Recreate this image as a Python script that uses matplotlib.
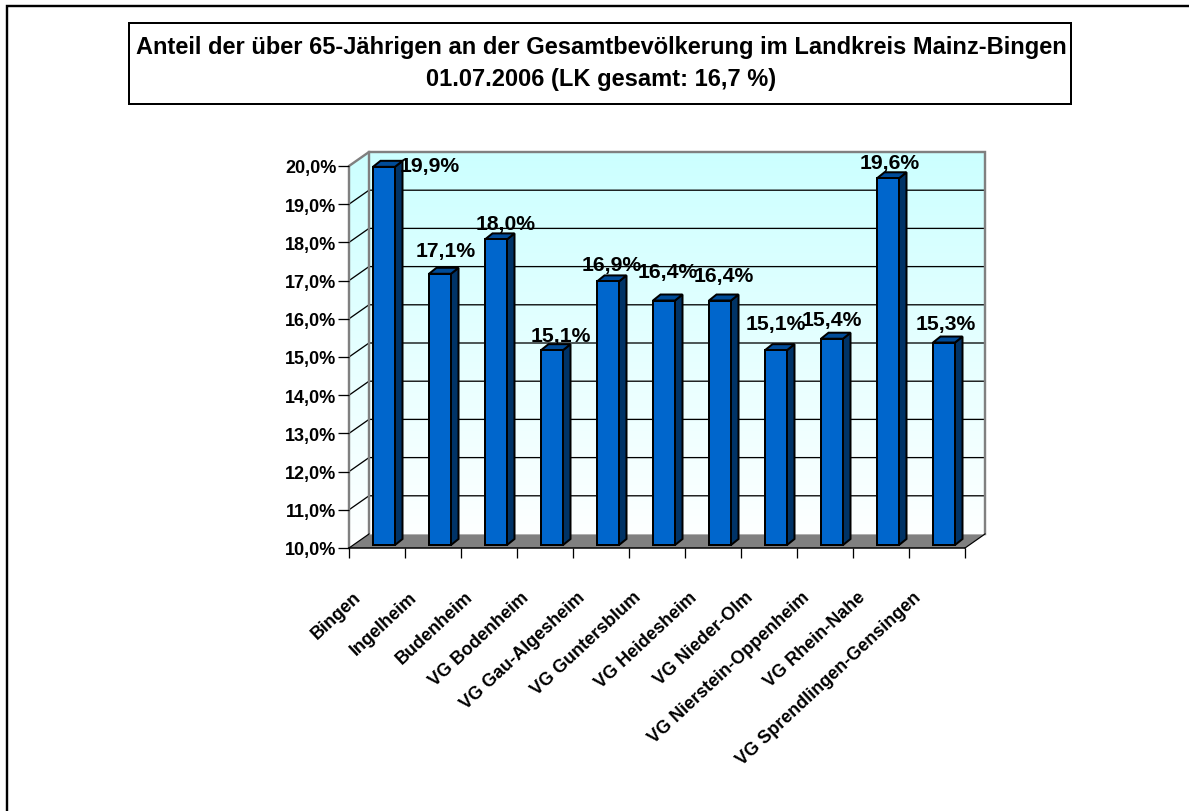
import numpy as np
import matplotlib
matplotlib.use("Agg")
import matplotlib.pyplot as plt
from matplotlib.colors import LinearSegmentedColormap
from matplotlib.patches import Polygon, Rectangle
from matplotlib.lines import Line2D
from matplotlib.transforms import ScaledTranslation

categories = ["Bingen", "Ingelheim", "Budenheim", "VG Bodenheim", "VG Gau-Algesheim",
              "VG Guntersblum", "VG Heidesheim", "VG Nieder-Olm",
              "VG Nierstein-Oppenheim", "VG Rhein-Nahe", "VG Sprendlingen-Gensingen"]
values = [19.9, 17.1, 18.0, 15.1, 16.9, 16.4, 16.4, 15.1, 15.4, 19.6, 15.3]
value_labels = ["19,9%", "17,1%", "18,0%", "15,1%", "16,9%", "16,4%", "16,4%",
                "15,1%", "15,4%", "19,6%", "15,3%"]
y_ticks = [10, 11, 12, 13, 14, 15, 16, 17, 18, 19, 20]
y_tick_labels = ["10,0%", "11,0%", "12,0%", "13,0%", "14,0%", "15,0%", "16,0%",
                 "17,0%", "18,0%", "19,0%", "20,0%"]
title_text = ("Anteil der über 65-Jährigen an der Gesamtbevölkerung im Landkreis Mainz-Bingen\n"
              "01.07.2006 (LK gesamt: 16,7 %)")

# label placement offsets in pixels from bar top centre (style)
label_dx = [46, 6, 10, 9, 4, 4, 4, 0, 0, 2, 2]
label_dy = [1, 23, 16, 15, 17, 29, 25, 27, 19, 16, 19]

W, H = 1189, 812
plt.rcParams['font.family'] = ['Liberation Sans', 'DejaVu Sans']
fig = plt.figure(figsize=(W / 100, H / 100), dpi=100, facecolor="white")
L, R, T, B = 349, 965, 167, 549
ax = fig.add_axes([L / W, 1 - B / H, (R - L) / W, (B - T) / H])
ax.set_xlim(0, len(categories))
ax.set_ylim(10, 20)
px = len(categories) / (R - L)
py = 10 / (B - T)
DX, DY = 20 * px, 14 * py   # wall depth
lw = 0.72
GRAY = "#808080"


def pg(points, **kw):
    p = Polygon(points, closed=True, clip_on=False, **kw)
    ax.add_patch(p)
    return p


# walls with gradient
n = len(categories)
cmap = LinearSegmentedColormap.from_list("wall", ["#FFFFFF", "#CCFFFF"])
grad = np.linspace(0, 1, 256).reshape(-1, 1)
im = ax.imshow(grad, origin="lower", cmap=cmap, aspect="auto",
               extent=(0, n + DX, 10, 20 + DY), zorder=0)
wall = Polygon([(0, 10), (DX, 10 + DY), (n + DX, 10 + DY), (n + DX, 20 + DY), (DX, 20 + DY), (0, 20)],
               closed=True, transform=ax.transData, fc="none", ec="none")
im.set_clip_path(wall)
im.set_clip_box(fig.bbox)
ax.set_xlim(0, n)
ax.set_ylim(10, 20)

# floor
pg([(0, 10), (n, 10), (n + DX, 10 + DY), (DX, 10 + DY)], fc=GRAY, ec="none", zorder=1)

# grid lines
for v in y_ticks[1:-1]:
    ax.add_line(Line2D([0, DX, n + DX], [v, v + DY, v + DY], color="black", lw=1.3 * lw,
                       clip_on=False, zorder=1))

# wall borders
ax.add_line(Line2D([0, 0, DX, n + DX, n + DX], [10, 20, 20 + DY, 20 + DY, 10 + DY],
                   color=GRAY, lw=2.4 * lw, clip_on=False, zorder=1.5, solid_joinstyle="miter"))
ax.add_line(Line2D([DX, DX], [10 + DY, 20 + DY], color=GRAY, lw=2.4 * lw, clip_on=False, zorder=1.5))
ax.add_line(Line2D([DX, n + DX], [10 + DY, 10 + DY], color="#B0B0B0", lw=1 * lw, clip_on=False, zorder=1.5))
ax.add_line(Line2D([0, DX], [10, 10 + DY], color="black", lw=1.2 * lw, clip_on=False, zorder=1.6))
ax.add_line(Line2D([n, n + DX], [10, 10 + DY], color="black", lw=1.2 * lw, clip_on=False, zorder=1.6))

# bars
pos = np.arange(n) + 0.5
ox, oy = 7 * px, 3 * py        # position of the bar inside the floor
bw = 22 * px
ddx, ddy = 7.5 * px, 6 * py    # bar depth
ax.bar(pos + ox, np.array(values) - 10, width=bw, bottom=10 + oy, color="#0066CC",
       edgecolor="black", linewidth=2 * lw, zorder=4, clip_on=False)
for x, v in zip(pos + ox, values):
    xl, xr = x - bw / 2, x + bw / 2
    top, bot = v + oy, 10 + oy
    pg([(xr, bot), (xr + ddx, bot + ddy), (xr + ddx, top + ddy), (xr, top)],
       fc="#003366", ec="black", lw=2 * lw, zorder=3)
    pg([(xl, top), (xr, top), (xr + ddx, top + ddy), (xl + ddx, top + ddy)],
       fc="#004C99", ec="black", lw=2 * lw, zorder=3)

# value labels
for x, v, s, dx, dy in zip(pos + ox, values, value_labels, label_dx, label_dy):
    ax.annotate(s, xy=(x, v + oy), xytext=(dx * 0.72, dy * 0.72), textcoords="offset points",
                ha="center", va="center", fontsize=15.2, fontweight="bold",
                color="black", zorder=6, annotation_clip=False)

# axes, ticks
for s in ("top", "right"):
    ax.spines[s].set_visible(False)
ax.spines["left"].set_visible(False)
ax.spines["bottom"].set_linewidth(1.5 * lw)
ax.spines["bottom"].set_zorder(2)
ax.set_yticks(y_ticks)
ax.set_yticklabels(y_tick_labels, fontsize=13, fontweight="bold")
ax.tick_params(axis="y", length=11 * lw, width=1.3 * lw, pad=1)
ax.set_xticks(np.arange(n + 1))
ax.set_xticklabels([])
ax.tick_params(axis="x", which="major", length=10 * lw, width=1.3 * lw)
ax.set_xticks(pos, minor=True)
ax.set_xticklabels(categories, minor=True, rotation=43, ha="right", va="top",
                   rotation_mode="anchor", fontsize=13, fontweight="bold")
ax.tick_params(axis="x", which="minor", length=0, pad=24 * lw)
shift = ScaledTranslation(-24 / 100, -16 / 100, fig.dpi_scale_trans)
for lab in ax.get_xticklabels(minor=True):
    lab.set_transform(lab.get_transform() + shift)
ax.patch.set_alpha(0)

# title box and page frame
fig.add_artist(Rectangle((128.7 / W, 1 - 105.3 / H), (1071.3 - 128.7) / W, (105.3 - 23.5) / H,
                         transform=fig.transFigure, fc="white", ec="black", lw=2 * lw))
fig.text(601 / W, 1 - 63.5 / H, title_text, ha="center", va="center", fontsize=17,
         fontweight="bold", linespacing=1.55, color="black")
fig.add_artist(Line2D([7 / W, 7 / W, 1], [0, 1 - 7 / H, 1 - 7 / H], transform=fig.transFigure,
                      color="black", lw=2.4 * lw, solid_joinstyle="miter"))

fig.savefig("out.png", dpi=100)
